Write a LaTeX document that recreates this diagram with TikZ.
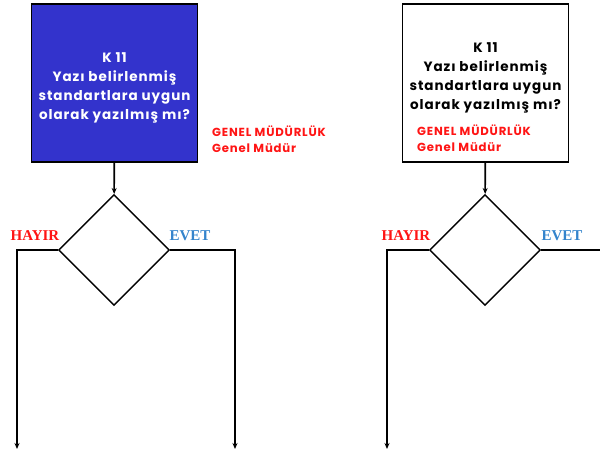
\documentclass[tikz,border=0pt]{standalone}
\usepackage{fontspec}
\setmainfont{Poppins}
\newfontfamily\kutufont[LetterSpace=7]{Poppins}
\newfontfamily\serifbold{Liberation Serif}
\usepackage{tikz}
\usetikzlibrary{positioning, shapes.geometric, arrows.meta}

\definecolor{boxblue}{RGB}{51,51,204}
\definecolor{evetblue}{RGB}{52,132,204}
\definecolor{labelred}{RGB}{255,20,20}

\tikzset{
  qbox/.style={draw, line width=1.8pt, minimum width=166pt, minimum height=158pt, align=center, font=\kutufont\bfseries\fontsize{13.5}{19}\selectfont},
  karar/.style={draw, diamond, aspect=1, inner sep=0pt, minimum width=111pt, minimum height=111pt, line width=1.4pt},
  rol/.style={text=labelred, align=left, inner sep=0pt, font=\kutufont\bfseries\fontsize{11.7}{16}\selectfont},
  cevap/.style={anchor=base, font=\serifbold\bfseries\fontsize{15}{17}\selectfont},
  akis/.style={line width=1.6pt, -{Stealth[length=6pt, width=5pt]}}
}

\begin{document}
\begin{tikzpicture}[x=1pt, y=-1pt]
      \useasboundingbox (0,0) rectangle (600,456);

      % left block
      \node[qbox, fill=boxblue, text=white] (KL) at (114.5, 83)  {\mbox{}\\[0pt] K 11 \\ Yazı belirlenmiş \\ standartlara uygun \\ olarak yazılmış mı?};
      \node[rol, anchor=north west]  (RL)  at (212, 126)  {GENEL MÜDÜRLÜK \\ Genel Müdür};
      \node[karar]                   (DL)  at (114, 250)  {};
      \node[cevap, text=labelred] (HL) at (35, 240) {HAYIR};
      \node[cevap, text=evetblue] (EL) at (190, 240) {EVET};

      \coordinate (hL) at (17, 250);
      \coordinate (eL) at (235, 250);
      \coordinate (hLend) at (17, 449);
      \coordinate (eLend) at (235, 449);

      % right block
      \node[qbox, fill=white] (KR) at (485.5, 83) {K 11 \\ Yazı belirlenmiş \\ standartlara uygun \\ olarak yazılmış mı?\\[-6pt]\mbox{}};
      \node[rol, anchor=north west]  (RR)  at (417, 125)  {GENEL MÜDÜRLÜK \\ Genel Müdür};
      \node[karar]                   (DR)  at (485, 250)  {};
      \node[cevap, text=labelred] (HR) at (406, 240) {HAYIR};
      \node[cevap, text=evetblue] (ER) at (562, 240) {EVET};

      \coordinate (hR) at (387, 250);
      \coordinate (eR) at (600, 250);
      \coordinate (hRend) at (387, 449);

      \draw[akis] (KL) -- (DL);
      \draw[akis] (DL.west) -- (hL) -- (hLend);
      \draw[akis] (DL.east) -- (eL) -- (eLend);

      \draw[akis] (KR) -- (DR);
      \draw[akis] (DR.west) -- (hR) -- (hRend);
      \draw[line width=1.6pt] (DR.east) -- (eR);
    \end{tikzpicture}
\end{document}
